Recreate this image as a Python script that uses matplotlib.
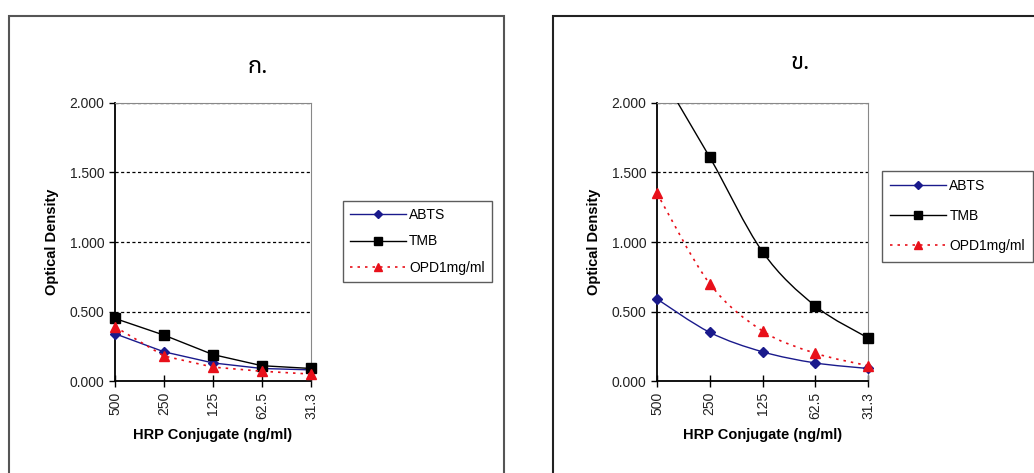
import matplotlib
matplotlib.use("Agg")
import matplotlib.pyplot as plt
import numpy as np
from matplotlib.path import Path
from matplotlib.patches import PathPatch, Rectangle
from matplotlib.lines import Line2D

plt.rcParams['font.family'] = ['Liberation Sans', 'DejaVu Sans']

#Data
conc = ["500", "250", "125", "62.5", "31.3"]

abts_a = [0.34, 0.21, 0.13, 0.09, 0.08]
tmb_a = [0.45, 0.33, 0.19, 0.11, 0.09]
opd_a = [0.39, 0.18, 0.10, 0.07, 0.05]

abts_b = [0.59, 0.35, 0.21, 0.13, 0.09]
tmb_b = [2.25, 1.61, 0.93, 0.54, 0.31]
opd_b = [1.35, 0.70, 0.36, 0.20, 0.11]

yticks = [0.0, 0.5, 1.0, 1.5, 2.0]

#Smoothed line like Excel (bezier through the points)
def smooth_path(x, y):
    x = np.asarray(x, float)
    y = np.asarray(y, float)
    verts = [(x[0], y[0])]
    codes = [Path.MOVETO]
    n = len(x)
    for i in range(n - 1):
        x0, y0 = (x[i - 1], y[i - 1]) if i > 0 else (x[i], y[i])
        x3, y3 = (x[i + 2], y[i + 2]) if i + 2 < n else (x[i + 1], y[i + 1])
        c1 = (x[i] + (x[i + 1] - x0) / 6, y[i] + (y[i + 1] - y0) / 6)
        c2 = (x[i + 1] - (x3 - x[i]) / 6, y[i + 1] - (y3 - y[i]) / 6)
        verts += [c1, c2, (x[i + 1], y[i + 1])]
        codes += [Path.CURVE4] * 3
    return Path(verts, codes)

styles = [
    dict(color="#1a1a8c", marker="D", ms=5, ls="-", lw=1.0, label="ABTS", mfc="#1a1a8c", mec="#1a1a8c"),
    dict(color="black", marker="s", ms=7, ls="-", lw=1.0, label="TMB", mfc="black", mec="black"),
    dict(color="#e8101a", marker="^", ms=7, ls=(0, (1.5, 3)), lw=1.2, label="OPD1mg/ml", mfc="#e8101a", mec="#e8101a"),
]

def draw_panel(ax, series, smooth):
    x = np.arange(len(conc))
    for vals, st in zip(series, styles):
        if smooth:
            patch = PathPatch(smooth_path(x, vals), fill=False, edgecolor=st["color"],
                              lw=st["lw"], ls=st["ls"], zorder=3)
            ax.add_patch(patch)
            vals = np.asarray(vals)
            inside = vals <= 2.0
            ax.plot(x[inside], vals[inside], ls="none", marker=st["marker"], ms=st["ms"],
                    mfc=st["mfc"], mec=st["mec"], zorder=4, clip_on=False)
        else:
            ax.plot(x, vals, color=st["color"], ls=st["ls"], lw=st["lw"], marker=st["marker"],
                    ms=st["ms"], mfc=st["mfc"], mec=st["mec"], zorder=3, clip_on=False)
    ax.set_xlim(0, len(conc) - 1)
    ax.set_ylim(0, 2.0)
    ax.set_yticks(yticks)
    ax.set_yticklabels(["%.3f" % v for v in yticks], fontsize=10, color="#222222")
    ax.set_xticks(x)
    ax.set_xticklabels(conc, rotation=90, fontsize=10, color="#222222")
    ax.tick_params(axis="x", direction="inout", length=8, width=1, pad=4)
    ax.tick_params(axis="y", direction="out", length=4, width=1)
    for g in yticks[1:]:
        ax.axhline(g, color="black", ls=(0, (2.5, 2)), lw=0.9, zorder=1)
    ax.spines["left"].set_linewidth(1.3)
    ax.spines["bottom"].set_linewidth(1.3)
    ax.spines["top"].set_color("#888888")
    ax.spines["right"].set_color("#888888")
    ax.spines["top"].set_linewidth(0.8)
    ax.spines["right"].set_linewidth(0.8)
    ax.set_ylabel("Optical Density", fontsize=10.5, fontweight="bold", labelpad=8)
    ax.set_xlabel("HRP Conjugate (ng/ml)", fontsize=10.5, fontweight="bold", labelpad=6)

fig = plt.figure(figsize=(10.34, 4.73), dpi=100)

#Panel frames
fig.patches.append(Rectangle((9 / 1034, -0.1), (504 - 9) / 1034, 1.1 - 16 / 473, transform=fig.transFigure,
                             fill=False, edgecolor="#555555", lw=1.5))
fig.patches.append(Rectangle((553 / 1034, -0.1), 0.6, 1.1 - 16 / 473, transform=fig.transFigure,
                             fill=False, edgecolor="#222222", lw=1.5))

ax1 = fig.add_axes([115 / 1034, 1 - 381 / 473, 196 / 1034, 278 / 473])
ax2 = fig.add_axes([657 / 1034, 1 - 381 / 473, 211 / 1034, 278 / 473])

draw_panel(ax1, [abts_a, tmb_a, opd_a], smooth=False)
draw_panel(ax2, [abts_b, tmb_b, opd_b], smooth=True)

thai = ["Noto Sans Thai", "Loma", "Garuda", "DejaVu Sans", "Noto Sans"]
fig.text(258 / 1034, 1 - 67 / 473, "ก.", fontsize=17, ha="center", va="center", family=thai)
fig.text(800 / 1034, 1 - 63 / 473, "ข.", fontsize=17, ha="center", va="center", family=thai)

handles = [Line2D([], [], color=st["color"], ls=st["ls"], lw=st["lw"], marker=st["marker"],
                  ms=st["ms"] - 1, mfc=st["mfc"], mec=st["mec"], label=st["label"]) for st in styles]

leg1 = fig.legend(handles=handles, loc="upper left", bbox_to_anchor=(343 / 1034, 1 - 201 / 473),
                  frameon=True, fancybox=False, edgecolor="#333333", fontsize=10, handlelength=4.0,
                  labelspacing=0.9, borderpad=0.5, handletextpad=0.25, borderaxespad=0)
leg1.get_frame().set_linewidth(1.0)
leg2 = fig.legend(handles=handles, loc="upper left", bbox_to_anchor=(882 / 1034, 1 - 171 / 473),
                  frameon=True, fancybox=False, edgecolor="#333333", fontsize=10, handlelength=4.0,
                  labelspacing=1.15, borderpad=0.6, handletextpad=0.25, borderaxespad=0)
leg2.get_frame().set_linewidth(1.0)

fig.savefig("out.png", dpi=100)
